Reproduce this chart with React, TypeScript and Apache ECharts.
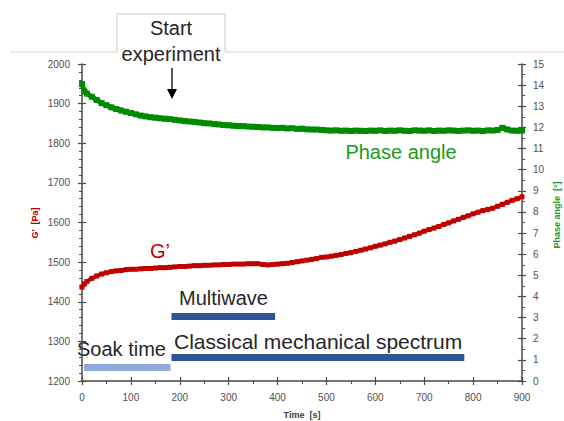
import React, { useEffect, useRef } from "react";
import * as echarts from "echarts";

const times = [0, 5, 10, 20, 30, 40, 50, 60, 70, 80, 90, 100, 110, 120, 130, 140, 150, 160, 170, 180, 190, 200, 210, 220, 230, 240, 250, 260, 270, 280, 290, 300, 310, 320, 330, 340, 350, 360, 370, 380, 390, 400, 410, 420, 430, 440, 450, 460, 470, 480, 490, 500, 510, 520, 530, 540, 550, 560, 570, 580, 590, 600, 610, 620, 630, 640, 650, 660, 670, 680, 690, 700, 710, 720, 730, 740, 750, 760, 770, 780, 790, 800, 810, 820, 830, 840, 850, 860, 870, 880, 890, 900];

const gPrime = [1437, 1445, 1451, 1459, 1465, 1470, 1473, 1476, 1478, 1479, 1481, 1482, 1482, 1483, 1484, 1484, 1485, 1486, 1486, 1487, 1488, 1489, 1489, 1490, 1491, 1491, 1492, 1492, 1493, 1493, 1494, 1494, 1495, 1495, 1495, 1496, 1496, 1496, 1494, 1493, 1494, 1495, 1496, 1497, 1499, 1501, 1503, 1505, 1507, 1509, 1512, 1513, 1515, 1517, 1519, 1522, 1524, 1527, 1530, 1533, 1536, 1540, 1543, 1546, 1550, 1553, 1557, 1561, 1565, 1569, 1573, 1578, 1582, 1586, 1590, 1595, 1599, 1604, 1608, 1613, 1617, 1622, 1626, 1630, 1633, 1636, 1641, 1646, 1651, 1656, 1660, 1665];

const phaseAngle = [14.05, 13.7, 13.6, 13.45, 13.3, 13.15, 13.05, 12.95, 12.87, 12.8, 12.74, 12.68, 12.62, 12.56, 12.52, 12.48, 12.46, 12.43, 12.41, 12.39, 12.36, 12.33, 12.3, 12.28, 12.26, 12.23, 12.2, 12.19, 12.16, 12.14, 12.11, 12.1, 12.08, 12.06, 12.06, 12.04, 12.03, 12.02, 12.0, 12.0, 11.98, 11.97, 11.98, 11.95, 11.96, 11.93, 11.94, 11.91, 11.9, 11.9, 11.88, 11.86, 11.85, 11.86, 11.84, 11.85, 11.83, 11.85, 11.84, 11.83, 11.85, 11.84, 11.86, 11.83, 11.85, 11.84, 11.86, 11.84, 11.83, 11.86, 11.85, 11.84, 11.86, 11.83, 11.85, 11.84, 11.86, 11.85, 11.83, 11.85, 11.86, 11.84, 11.85, 11.83, 11.86, 11.85, 11.88, 11.98, 11.9, 11.85, 11.84, 11.85];

// Protocol stage bars (time start, time end, level on the phase-angle axis)
const soakBar = [[4, 0.64], [181, 0.64]];
const multiwaveBar = [[183, 3.05], [395, 3.05]];
const classicalBar = [[183, 1.11], [782, 1.11]];

const xTicks = { min: 0, max: 900, interval: 100 };
const leftTicks = { min: 1200, max: 2000, interval: 100 };
const rightTicks = { min: 0, max: 15, interval: 1 };

const AXIS = "#4a4a4a";
const LABEL_COLOR = "#505050";
const LABEL_FONT = "Liberation Sans";
const RED = "#c00000";
const GREEN = "#008a00";
const FONT = "Liberation Sans, Arial, sans-serif";

export default function App() {
  const ref = useRef<HTMLDivElement>(null);
  useEffect(() => {
    if (!ref.current) return;
    const chart = echarts.init(ref.current, null, { renderer: "svg" });
    const axisLine = { show: true, onZero: false, lineStyle: { color: AXIS, width: 1.5 } };
    const label = { color: LABEL_COLOR, fontSize: 10, fontFamily: LABEL_FONT, formatter: (v: number) => String(v) };
    const gSeries = times.map((t, i) => [t, gPrime[i]]);
    const pSeries = times.map((t, i) => [t, phaseAngle[i]]);
    const tick = (inside: boolean) => ({ show: true, inside, length: 4, lineStyle: { color: AXIS, width: 1.2 } });
    const noLine = { show: false, onZero: false };
    chart.setOption({
      animation: false,
      grid: { left: 82, right: 42, top: 64, bottom: 40, containLabel: false },
      xAxis: [
        {
          type: "value", ...xTicks, position: "bottom",
          axisLine, splitLine: { show: false },
          axisTick: tick(false),
          minorTick: { show: true, splitNumber: 2, length: 3, lineStyle: { color: AXIS } },
          axisLabel: { ...label, margin: 11 },
        },
        {
          type: "value", ...xTicks, position: "bottom",
          axisLine: noLine, splitLine: { show: false },
          axisTick: tick(true),
          axisLabel: { show: false },
        },
      ],
      yAxis: [
        {
          type: "value", ...leftTicks, position: "left",
          axisLine, splitLine: { show: false },
          axisTick: tick(false),
          minorTick: { show: true, splitNumber: 5, length: 3, lineStyle: { color: AXIS } },
          axisLabel: { ...label, margin: 12 },
        },
        {
          type: "value", ...rightTicks, position: "right",
          axisLine, splitLine: { show: false },
          axisTick: tick(false),
          minorTick: { show: true, splitNumber: 2, length: 3, lineStyle: { color: AXIS } },
          axisLabel: { ...label, margin: 11 },
        },
        {
          type: "value", ...leftTicks, position: "left",
          axisLine: noLine, splitLine: { show: false },
          axisTick: tick(true),
          axisLabel: { show: false },
        },
        {
          type: "value", ...rightTicks, position: "right",
          axisLine: noLine, splitLine: { show: false },
          axisTick: tick(true),
          axisLabel: { show: false },
        },
      ],
      series: [
        {
          type: "line", name: "Soak time", yAxisIndex: 1, data: soakBar,
          symbol: "none", lineStyle: { color: "#8faadc", width: 7, cap: "butt" },
        },
        {
          type: "line", name: "Multiwave", yAxisIndex: 1, data: multiwaveBar,
          symbol: "none", lineStyle: { color: "#2f5597", width: 7, cap: "butt" },
        },
        {
          type: "line", name: "Classical mechanical spectrum", yAxisIndex: 1, data: classicalBar,
          symbol: "none", lineStyle: { color: "#2f5597", width: 7, cap: "butt" },
        },
        {
          type: "line", name: "G'", yAxisIndex: 0, data: gSeries,
          symbol: "rect", symbolSize: 5, itemStyle: { color: RED },
          lineStyle: { color: RED, width: 4 },
        },
        {
          type: "line", name: "Phase angle", yAxisIndex: 1, data: pSeries,
          symbol: "rect", symbolSize: 6, itemStyle: { color: GREEN },
          lineStyle: { color: GREEN, width: 5 },
        },
      ],
      graphic: [
        { type: "line", shape: { x1: 10, y1: 52, x2: 117, y2: 52 }, style: { stroke: "#d4d4d4", lineWidth: 1 } },
        { type: "line", shape: { x1: 225, y1: 52, x2: 564, y2: 52 }, style: { stroke: "#d4d4d4", lineWidth: 1 } },
        { type: "polyline", shape: { points: [[117, 52], [117, 14], [225, 14], [225, 52]] }, style: { stroke: "#c8c8c8", fill: null, lineWidth: 1 } },
        { type: "text", x: 171, y: 28, style: { text: "Start", font: `20px ${FONT}`, fill: "#262626", textAlign: "center", textVerticalAlign: "middle" } },
        { type: "text", x: 171, y: 54, style: { text: "experiment", font: `20px ${FONT}`, fill: "#262626", textAlign: "center", textVerticalAlign: "middle" } },
        { type: "line", shape: { x1: 172, y1: 68, x2: 172, y2: 91 }, style: { stroke: "#000", lineWidth: 1.3 } },
        { type: "polygon", shape: { points: [[167, 89], [177, 89], [172, 99]] }, style: { fill: "#000" } },
        { type: "text", x: 160, y: 251, style: { text: "G’", font: `20px ${FONT}`, fill: RED, textAlign: "center", textVerticalAlign: "middle" } },
        { type: "text", x: 401, y: 152, style: { text: "Phase angle", font: `20px ${FONT}`, fill: "#1a9a1a", textAlign: "center", textVerticalAlign: "middle" } },
        { type: "text", x: 179, y: 298, style: { text: "Multiwave", font: `20px ${FONT}`, fill: "#262626", textAlign: "left", textVerticalAlign: "middle" } },
        { type: "text", x: 174, y: 341, style: { text: "Classical mechanical spectrum", font: `21px ${FONT}`, fill: "#262626", textAlign: "left", textVerticalAlign: "middle" } },
        { type: "text", x: 77, y: 349, style: { text: "Soak time", font: `20px ${FONT}`, fill: "#262626", textAlign: "left", textVerticalAlign: "middle" } },
        { type: "text", x: 35, y: 223, rotation: Math.PI / 2, style: { text: "G'  [Pa]", font: `bold 9px ${FONT}`, fill: RED, textAlign: "center", textVerticalAlign: "middle" } },
        { type: "text", x: 557, y: 215, rotation: Math.PI / 2, style: { text: "Phase angle  [°]", font: `bold 9px ${FONT}`, fill: "#1a9a1a", textAlign: "center", textVerticalAlign: "middle" } },
        { type: "text", x: 302, y: 415, style: { text: "Time  [s]", font: `bold 9px ${FONT}`, fill: "#404040", textAlign: "center", textVerticalAlign: "middle" } },
      ],
    });
    return () => chart.dispose();
  }, []);
  return <div ref={ref} style={{ width: 564, height: 421, position: "absolute", left: 0, top: 0, background: "#fff" }} />;
}
